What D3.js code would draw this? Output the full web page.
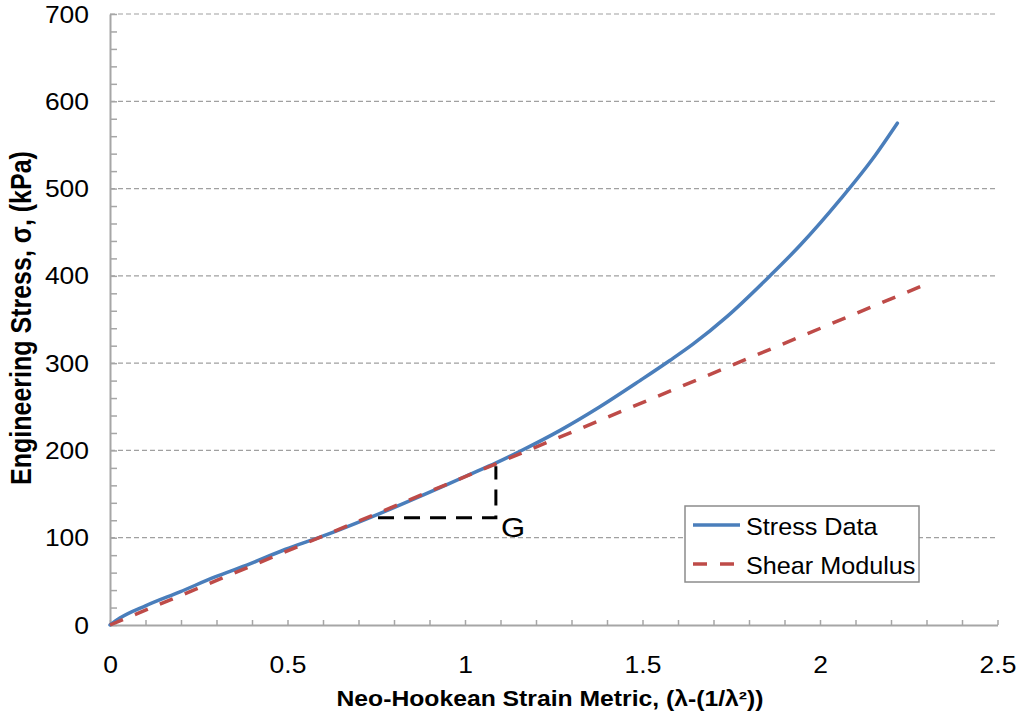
<!DOCTYPE html>
<html>
<head>
<meta charset="utf-8">
<script src="https://cdn.jsdelivr.net/npm/d3@7"></script>
<style>
  body { margin: 0; background: #fff; }
  svg { display: block; font-family: Arial, "Liberation Sans", sans-serif; }
</style>
</head>
<body>
<svg id="chart" width="1019" height="723"></svg>
<script>
// measured stress data (strain metric vs engineering stress, kPa)
var strainData = [0, 0.028, 0.1, 0.197, 0.296, 0.394, 0.493, 0.601, 0.732, 0.883, 1.005, 1.089,
                  1.155, 1.268, 1.380, 1.493, 1.577, 1.643, 1.737, 1.859, 1.944, 2.056, 2.150, 2.218];
var stressData = [0, 8, 22, 38, 55, 70, 86.5, 102, 123, 149, 171, 186,
                  199, 223, 250, 280, 303, 322, 353, 400, 435, 487, 535, 575];

// shear modulus fit line
var shearX = [0, 2.29];
var shearY = [0, 389];

// slope triangle marking G
var triX = [0.755, 1.087, 1.087];
var triY = [123, 123, 182];

var xTickLabels = [0, 0.5, 1, 1.5, 2, 2.5];
var yTickLabels = [0, 100, 200, 300, 400, 500, 600, 700];
var xMinorTicks = [0, 0.1, 0.2, 0.3, 0.4, 0.5, 0.6, 0.7, 0.8, 0.9, 1, 1.1, 1.2, 1.3, 1.4,
                   1.5, 1.6, 1.7, 1.8, 1.9, 2, 2.1, 2.2, 2.3, 2.4, 2.5];
var yMinorTicks = [0, 20, 40, 60, 80, 100, 120, 140, 160, 180, 200, 220, 240, 260, 280, 300,
                   320, 340, 360, 380, 400, 420, 440, 460, 480, 500, 520, 540, 560, 580, 600,
                   620, 640, 660, 680, 700];

var seriesNames = ["Stress Data", "Shear Modulus"];

var stretch = 1.15; // the reference is a bit wider than tall
var margin = {left: 110, top: 14};
var plotW = 887.5, plotH = 611;
var blue = "#4A7EBB", red = "#BE4B48", axisGray = "#a6a6a6";

var svg = d3.select("#chart");
var g = svg.append("g").attr("transform", "translate(" + margin.left + "," + margin.top + ")");

var x = d3.scaleLinear().domain([0, 2.5]).range([0, plotW]);
var y = d3.scaleLinear().domain([0, 700]).range([plotH, 0]);

// gridlines
g.append("g").selectAll("line")
  .data(yTickLabels.filter(function(d) { return d > 0; }))
  .enter().append("line")
  .attr("x1", 0).attr("x2", plotW)
  .attr("y1", function(d) { return y(d); })
  .attr("y2", function(d) { return y(d); })
  .attr("stroke", "#a0a0a0")
  .attr("stroke-width", 1.2)
  .attr("stroke-dasharray", "5,3");

// minor ticks (inside)
var xMinor = g.append("g").attr("transform", "translate(0," + plotH + ")")
  .call(d3.axisBottom(x).tickValues(xMinorTicks).tickSizeInner(-5).tickSizeOuter(0).tickFormat(""));
var yMinor = g.append("g")
  .call(d3.axisLeft(y).tickValues(yMinorTicks).tickSizeInner(-7).tickSizeOuter(0).tickFormat(""));
[xMinor, yMinor].forEach(function(a) {
  a.selectAll("line").attr("stroke", axisGray).attr("stroke-width", 1.5);
  a.select(".domain").attr("stroke", axisGray).attr("stroke-width", 2);
});

// tick labels
var xLab = g.append("g").attr("transform", "translate(0," + plotH + ")")
  .call(d3.axisBottom(x).tickValues(xTickLabels).tickSize(0).tickFormat(d3.format("")));
xLab.select(".domain").remove();
xLab.selectAll("text")
  .attr("y", 32).attr("dy", "0.71em")
  .attr("font-size", 23).attr("fill", "#000")
  .attr("transform", "scale(" + stretch + ",1)");

var yLab = g.append("g")
  .call(d3.axisLeft(y).tickValues(yTickLabels).tickSize(0));
yLab.select(".domain").remove();
yLab.selectAll("text")
  .attr("x", -21 / stretch).attr("dy", "0.35em")
  .attr("font-size", 23).attr("fill", "#000")
  .attr("transform", "scale(" + stretch + ",1)");

// series
var line = d3.line()
  .x(function(d) { return x(d[0]); })
  .y(function(d) { return y(d[1]); });

g.append("path")
  .datum(d3.zip(strainData, stressData))
  .attr("d", line.curve(d3.curveMonotoneX))
  .attr("fill", "none").attr("stroke", blue)
  .attr("stroke-width", 3.5).attr("stroke-linejoin", "round").attr("stroke-linecap", "round");

g.append("path")
  .datum(d3.zip(shearX, shearY))
  .attr("d", line.curve(d3.curveLinear))
  .attr("fill", "none").attr("stroke", red)
  .attr("stroke-width", 3.5).attr("stroke-dasharray", "14,13");

g.append("path")
  .datum(d3.zip(triX, triY))
  .attr("d", line)
  .attr("fill", "none").attr("stroke", "#000")
  .attr("stroke-width", 3).attr("stroke-dasharray", "16,10");

g.append("g")
  .attr("transform", "translate(" + (x(1.087) + 5) + "," + (y(123) + 19) + ") scale(" + stretch + ",1)")
  .append("text").attr("font-size", 27).attr("fill", "#000").text("G");

// legend
var legend = svg.append("g").attr("transform", "translate(685,506)");
legend.append("rect")
  .attr("width", 234).attr("height", 76)
  .attr("fill", "#fff").attr("stroke", "#8c8c8c").attr("stroke-width", 1.5);
var items = legend.selectAll(".item")
  .data(seriesNames).enter().append("g")
  .attr("transform", function(d, i) { return "translate(0," + (19 + i * 39) + ")"; });
items.append("line")
  .attr("x1", 8).attr("x2", 55)
  .attr("stroke", function(d, i) { return i === 0 ? blue : red; })
  .attr("stroke-width", 3.5)
  .attr("stroke-dasharray", function(d, i) { return i === 0 ? null : "14,13"; });
items.append("g")
  .attr("transform", "translate(61,10) scale(1.05,1)")
  .append("text")
  .attr("font-size", 24).attr("fill", "#000")
  .text(function(d) { return d; });

// axis titles
svg.append("g")
  .attr("transform", "translate(550,706) scale(" + stretch + ",1)")
  .append("text")
  .attr("text-anchor", "middle").attr("font-size", 21.5).attr("font-weight", "bold")
  .text("Neo-Hookean Strain Metric, (λ-(1/λ²))");

svg.append("g")
  .attr("transform", "translate(31,318) scale(" + stretch + ",1) rotate(-90)")
  .append("text")
  .attr("text-anchor", "middle").attr("font-size", 25).attr("font-weight", "bold")
  .text("Engineering Stress, σ, (kPa)");
</script>
</body>
</html>
